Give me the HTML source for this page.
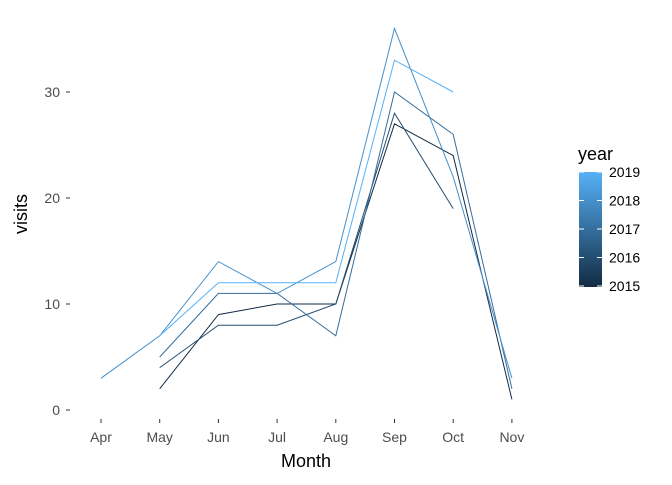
<!DOCTYPE html>
<html><head><meta charset="utf-8"><style>
body{margin:0;background:#fff;font-family:"Liberation Sans",sans-serif}
</style></head><body>
<svg id="c" width="672" height="480" xmlns="http://www.w3.org/2000/svg" font-family="Liberation Sans, sans-serif"></svg>
<script>
const months=["Apr","May","Jun","Jul","Aug","Sep","Oct","Nov"];
const years=[2015,2016,2017,2018,2019];
const v2015=[null,2,9,10,10,27,24,1];
const v2016=[null,4,8,8,10,28,19,null];
const v2017=[null,5,11,11,7,30,26,2];
const v2018=[3,7,14,11,14,36,22,3];
const v2019=[null,7,12,12,12,33,30,null];
const series=[v2015,v2016,v2017,v2018,v2019];
const yTicks=[0,10,20,30];
const svg=document.getElementById('c');
const NS="http://www.w3.org/2000/svg";
const x=i=>101+i*58.7;
const y=v=>410-v*10.6;
function col(t){const a=[0x13,0x2B,0x43],b=[0x56,0xB1,0xF7];return `rgb(${a.map((c,i)=>Math.round(c+(b[i]-c)*t)).join(',')})`;}
function mk(tag,attrs,name,text){const e=document.createElementNS(NS,tag);for(const k in attrs)e.setAttribute(k,attrs[k]);


if(text!==undefined)e.textContent=text;svg.appendChild(e);return e;}
yTicks.forEach(t=>{
 mk('line',{x1:66,x2:70,y1:y(t),y2:y(t),stroke:'#333','stroke-width':1},'y-tick');
 mk('text',{x:60,y:y(t)+5,'text-anchor':'end','font-size':14,fill:'#4d4d4d'},'y-tick-label',t);
});
months.forEach((m,i)=>{
 mk('line',{x1:x(i),x2:x(i),y1:419,y2:423,stroke:'#333','stroke-width':1},'x-tick');
 mk('text',{x:x(i),y:442,'text-anchor':'middle','font-size':14,fill:'#4d4d4d'},'x-tick-label',m);
});
series.forEach((s,k)=>{
 let d='',pen=false;
 s.forEach((v,i)=>{if(v===null){pen=false;return;}d+=(pen?'L':'M')+x(i)+','+y(v);pen=true;});
 mk('path',{d:d,fill:'none',stroke:col(k/4),'stroke-width':1},'line-'+years[k]);
});
mk('text',{x:306,y:467,'text-anchor':'middle','font-size':18,fill:'#000'},'x-axis-title','Month');
mk('text',{x:0,y:0,'text-anchor':'middle','font-size':18,fill:'#000',transform:'translate(27,214) rotate(-90)'},'y-axis-title','visits');
mk('text',{x:578,y:160,'font-size':18,fill:'#000'},'legend-title','year');
const defs=document.createElementNS(NS,'defs');defs.innerHTML='<linearGradient id="g" x1="0" y1="1" x2="0" y2="0"><stop offset="0" stop-color="#132B43"/><stop offset="1" stop-color="#56B1F7"/></linearGradient>';svg.appendChild(defs);
mk('rect',{x:579,y:172,width:23,height:115,fill:'url(#g)'},'legend-colorbar');
years.forEach((yr,k)=>{const yy=286-k*28.5;
 mk('line',{x1:579,x2:584,y1:yy,y2:yy,stroke:'#fff'},'legend-tick');
 mk('line',{x1:597,x2:602,y1:yy,y2:yy,stroke:'#fff'},'legend-tick');
 mk('text',{x:609,y:yy+5,'font-size':14,fill:'#000'},'legend-label',yr);
});
</script>
</body></html>
